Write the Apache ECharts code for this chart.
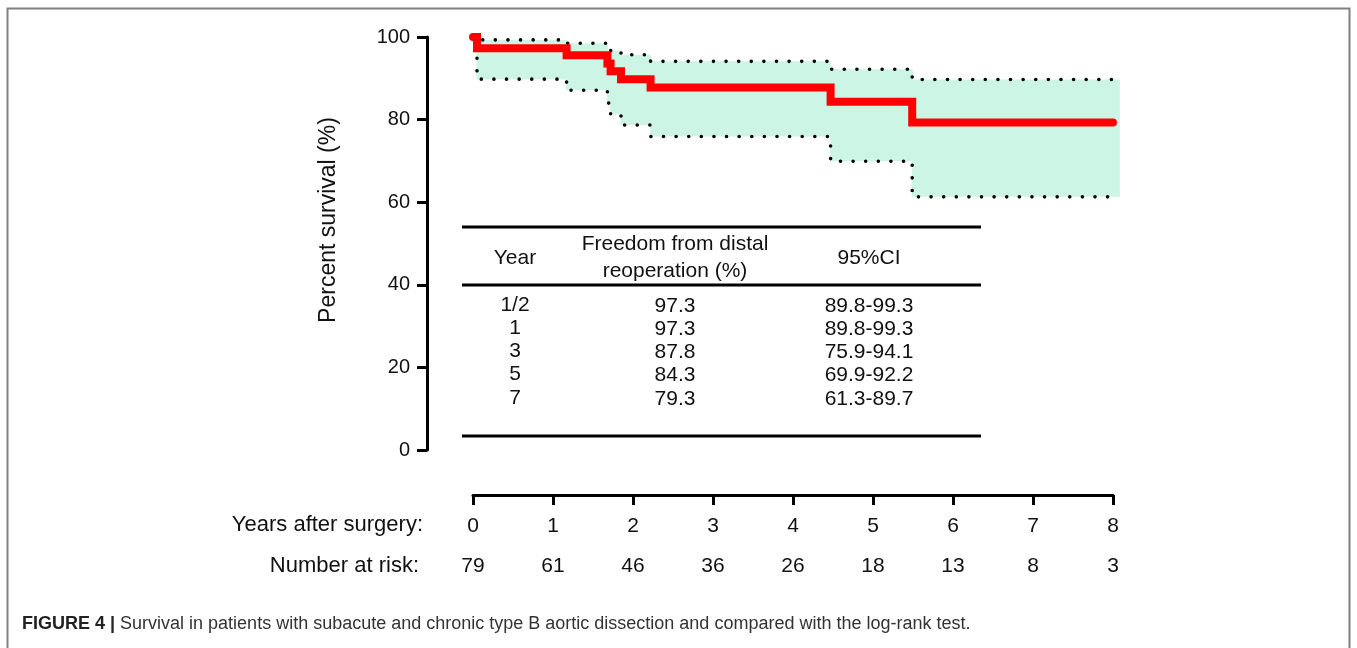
<!DOCTYPE html>
<html>
<head>
<meta charset="utf-8">
<script src="https://cdn.jsdelivr.net/npm/echarts@6/dist/echarts.min.js"></script>
<style>
html,body{margin:0;padding:0;background:#fff;}
#chart{width:1357px;height:648px;}
</style>
</head>
<body>
<div id="chart"></div>
<script>
// ---- data ----
const times     = [0, 0.05, 1.17, 1.68, 1.72, 1.85, 2.22, 4.47, 5.49, 8.0];
const survival  = [100, 97.3, 95.6, 93.6, 91.7, 89.8, 87.8, 84.3, 79.3, 79.3];
const upperCI   = [100, 99.3, 98.5, 96.7, 96.7, 95.7, 94.1, 92.2, 89.7, 89.7];
const lowerCI   = [100, 89.8, 87.1, 84.0, 81.3, 78.7, 75.9, 69.9, 61.3, 61.3];
const bandEnd   = 8.08;
const yearTicks = [0, 1, 2, 3, 4, 5, 6, 7, 8];
const atRisk    = [79, 61, 46, 36, 26, 18, 13, 8, 3];
const tableHead = ['Year', 'Freedom from distal\nreoperation (%)', '95%CI'];
const tableYears   = ['1/2', '1', '3', '5', '7'];
const tableFreedom = ['97.3', '97.3', '87.8', '84.3', '79.3'];
const tableCI      = ['89.8-99.3', '89.8-99.3', '75.9-94.1', '69.9-92.2', '61.3-89.7'];
const yLabel = 'Percent survival (%)';
const xRowLabel = 'Years after surgery:';
const riskRowLabel = 'Number at risk:';
const captionBold = 'FIGURE 4 |';
const captionText = ' Survival in patients with subacute and chronic type B aortic dissection and compared with the log-rank test.';

// ---- styles / layout ----
const FONT = '"Liberation Sans", Arial, sans-serif';
const TXT = '#111';
const chart = echarts.init(document.getElementById('chart'), null, {renderer: 'canvas'});

// band segments built from the CI arrays
const bandTimes = times.map((t, i) => (i === times.length - 1 ? bandEnd : t));
const bandData = [];
for (let i = 0; i < bandTimes.length - 1; i++) {
  bandData.push([bandTimes[i], bandTimes[i + 1], lowerCI[i], upperCI[i]]);
}

// table graphics
const tbl = {x1: 462, x2: 981, top: 227, mid: 285, bottom: 436, cols: [515, 675, 869], headY: 258, row0: 305, pitch: 23.2};
const graphics = [];
[tbl.top, tbl.mid, tbl.bottom].forEach(y => graphics.push({
  type: 'line', shape: {x1: tbl.x1, y1: y, x2: tbl.x2, y2: y},
  style: {stroke: '#000', lineWidth: 3}
}));
tableHead.forEach((h, c) => graphics.push({
  type: 'text', x: tbl.cols[c], y: tbl.headY,
  style: {text: h, fontSize: 21, fontFamily: FONT, fill: TXT, align: 'center', verticalAlign: 'middle', lineHeight: 27}
}));
[tableYears, tableFreedom, tableCI].forEach((col, c) => col.forEach((v, r) => graphics.push({
  type: 'text', x: tbl.cols[c], y: tbl.row0 + r * tbl.pitch + (c === 0 ? 0 : 1),
  style: {text: v, fontSize: 21, fontFamily: FONT, fill: TXT, align: 'center', verticalAlign: 'middle'}
})));
// axis title
graphics.push({type: 'text', x: 329, y: 220, rotation: Math.PI / 2,
  style: {text: yLabel, fontSize: 23, fontFamily: FONT, fill: TXT, align: 'center', verticalAlign: 'middle'}});
// row labels
graphics.push({type: 'text', x: 423, y: 525, style: {text: xRowLabel, fontSize: 22, fontFamily: FONT, fill: TXT, align: 'right', verticalAlign: 'middle'}});
graphics.push({type: 'text', x: 419, y: 566, style: {text: riskRowLabel, fontSize: 22, fontFamily: FONT, fill: TXT, align: 'right', verticalAlign: 'middle'}});
// caption
graphics.push({type: 'text', x: 22, y: 624, style: {
  text: '{b|' + captionBold + '}{n|' + captionText + '}', verticalAlign: 'middle',
  rich: {
    b: {fontSize: 18, fontWeight: 'bold', fontFamily: FONT, fill: '#222'},
    n: {fontSize: 18, fontFamily: FONT, fill: '#333'}
  }
}});
// frame
graphics.push({type: 'polyline', shape: {points: [[7.5, 648], [7.5, 8.5], [1349.5, 8.5], [1349.5, 648]]},
  style: {stroke: '#808080', lineWidth: 2, fill: null}});

const option = {
  animation: false,
  backgroundColor: '#fff',
  grid: {left: 473, right: 244, top: 37, bottom: 198, containLabel: false},
  xAxis: [
    {
      type: 'value', min: 0, max: 8, interval: 1, position: 'bottom', offset: 45,
      axisLine: {show: true, onZero: false, lineStyle: {color: '#000', width: 3}},
      axisTick: {show: true, length: 10, lineStyle: {color: '#000', width: 3}},
      axisLabel: {fontSize: 21, fontFamily: FONT, color: TXT, margin: 21,
        formatter: v => yearTicks.indexOf(v) >= 0 ? String(v) : ''},
      splitLine: {show: false}
    },
    {
      type: 'value', min: 0, max: 8, interval: 1, position: 'bottom', offset: 45,
      axisLine: {show: false, onZero: false}, axisTick: {show: false}, splitLine: {show: false},
      axisLabel: {fontSize: 21, fontFamily: FONT, color: TXT, margin: 61,
        formatter: v => {const i = yearTicks.indexOf(v); return i >= 0 ? String(atRisk[i]) : '';}}
    }
  ],
  yAxis: {
    type: 'value', min: 0, max: 100, interval: 20, position: 'left', offset: 46,
    axisLine: {show: true, onZero: false, lineStyle: {color: '#000', width: 3}},
    axisTick: {show: true, length: 10, lineStyle: {color: '#000', width: 3}},
    axisLabel: {fontSize: 20, fontFamily: FONT, color: TXT, margin: 17},
    splitLine: {show: false}
  },
  series: [
    {
      name: 'band', type: 'custom', clip: false, silent: true, z: 1,
      encode: {x: [0, 1], y: [2, 3]},
      data: bandData,
      renderItem: function (params, api) {
        const p0 = api.coord([api.value(0), api.value(3)]);
        const p1 = api.coord([api.value(1), api.value(2)]);
        return {
          type: 'rect',
          shape: {x: p0[0] - 0.5, y: p0[1], width: p1[0] - p0[0] + 1, height: p1[1] - p0[1]},
          style: {fill: '#cdf5e5'}
        };
      }
    },
    {
      name: 'upper', type: 'line', step: 'end', symbol: 'none', z: 3,
      lineStyle: {color: '#000', width: 3.6, type: [0.01, 12.6], cap: 'round'},
      data: times.map((t, i) => [t, upperCI[i]])
    },
    {
      name: 'lower', type: 'line', step: 'end', symbol: 'none', z: 3,
      lineStyle: {color: '#000', width: 3.6, type: [0.01, 12.6], cap: 'round'},
      data: times.map((t, i) => [t, lowerCI[i]])
    },
    {
      name: 'survival', type: 'line', step: 'end', symbol: 'none', z: 4,
      lineStyle: {color: '#ff0000', width: 8, cap: 'round', join: 'miter'},
      data: times.map((t, i) => [t, survival[i]])
    }
  ],
  graphic: graphics
};
chart.setOption(option);
</script>
</body>
</html>
